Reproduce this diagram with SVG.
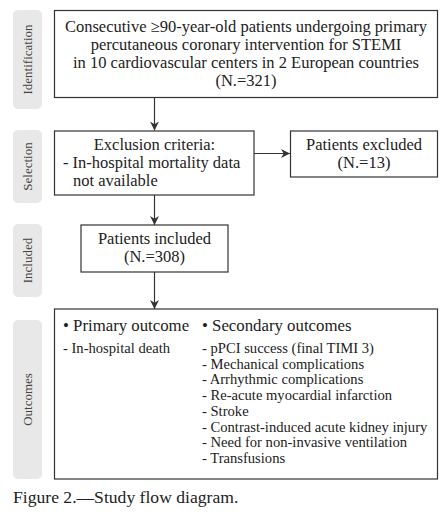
<svg xmlns="http://www.w3.org/2000/svg" width="446" height="513" viewBox="0 0 446 513">
<style>
.tab{fill:#e8e8e8}
.tabt{font-family:"Liberation Serif","Times New Roman",serif;font-size:13px;fill:#444;text-anchor:middle}
.box{fill:#fff;stroke:#333;stroke-width:1.2}
.t{font-family:"Liberation Serif","Times New Roman",serif;font-size:16.5px;fill:#222}
.c{text-anchor:middle}
.s{font-size:14.6px}
.h{font-size:16.8px}
.cap{font-size:17.6px}
.con{stroke:#333;stroke-width:1.2;fill:none;marker-end:url(#ah)}
</style>
<defs>
<marker id="ah" viewBox="0 0 10 10" refX="10" refY="5" markerWidth="9" markerHeight="9" markerUnits="userSpaceOnUse" orient="auto">
<path d="M0,0 L10,5 L0,10 L3,5 z" fill="#333"/>
</marker>
</defs>
<g id="tabs">
<g id="tab-identification"><rect class="tab" x="13" y="10" width="29" height="99" rx="5"/><text class="tabt" transform="translate(32,59.5) rotate(-90)">Identification</text></g>
<g id="tab-selection"><rect class="tab" x="13" y="130" width="29" height="73" rx="5"/><text class="tabt" transform="translate(32,166.5) rotate(-90)">Selection</text></g>
<g id="tab-included"><rect class="tab" x="13" y="224" width="29" height="73" rx="5"/><text class="tabt" transform="translate(32,260.5) rotate(-90)">Included</text></g>
<g id="tab-outcomes"><rect class="tab" x="13" y="320" width="29" height="159" rx="5"/><text class="tabt" transform="translate(32,399.5) rotate(-90)">Outcomes</text></g>
</g>
<g id="connectors">
<line class="con" x1="154.5" y1="98" x2="154.5" y2="130.5"/>
<line class="con" x1="254" y1="153.5" x2="290" y2="153.5"/>
<line class="con" x1="154.5" y1="195" x2="154.5" y2="225"/>
<line class="con" x1="154.5" y1="272" x2="154.5" y2="309"/>
</g>
<g id="identification">
<rect class="box" x="54.5" y="10.5" width="383" height="87"/>
<text class="t c" x="246" y="32">Consecutive ≥90-year-old patients undergoing primary</text>
<text class="t c" x="246" y="50">percutaneous coronary intervention for STEMI</text>
<text class="t c" x="246" y="68">in 10 cardiovascular centers in 2 European countries</text>
<text class="t c" x="246" y="86">(N.=321)</text>
</g>
<g id="exclusion">
<rect class="box" x="54.5" y="131" width="199.5" height="64"/>
<text class="t c" x="154.5" y="150">Exclusion criteria:</text>
<text class="t" x="63" y="168">- In-hospital mortality data</text>
<text class="t" x="73" y="186">not available</text>
</g>
<g id="excluded">
<rect class="box" x="290.5" y="131" width="147" height="46"/>
<text class="t c" x="364" y="150">Patients excluded</text>
<text class="t c" x="364" y="168">(N.=13)</text>
</g>
<g id="included">
<rect class="box" x="81" y="225" width="147" height="47"/>
<text class="t c" x="154.5" y="244">Patients included</text>
<text class="t c" x="154.5" y="262">(N.=308)</text>
</g>
<g id="outcomes">
<rect class="box" x="54.5" y="309" width="383" height="170"/>
<text class="t h" x="63" y="331">• Primary outcome</text>
<text class="t h" x="202" y="331">• Secondary outcomes</text>
<text class="t s" x="63" y="353">- In-hospital death</text>
<text class="t s" x="202" y="353">- pPCI success (final TIMI 3)</text>
<text class="t s" x="202" y="368.7">- Mechanical complications</text>
<text class="t s" x="202" y="384.4">- Arrhythmic complications</text>
<text class="t s" x="202" y="400.1">- Re-acute myocardial infarction</text>
<text class="t s" x="202" y="415.8">- Stroke</text>
<text class="t s" x="202" y="431.5">- Contrast-induced acute kidney injury</text>
<text class="t s" x="202" y="447.2">- Need for non-invasive ventilation</text>
<text class="t s" x="202" y="462.9">- Transfusions</text>
</g>
<text class="t cap" x="13" y="503">Figure 2.—Study flow diagram.</text>
</svg>
